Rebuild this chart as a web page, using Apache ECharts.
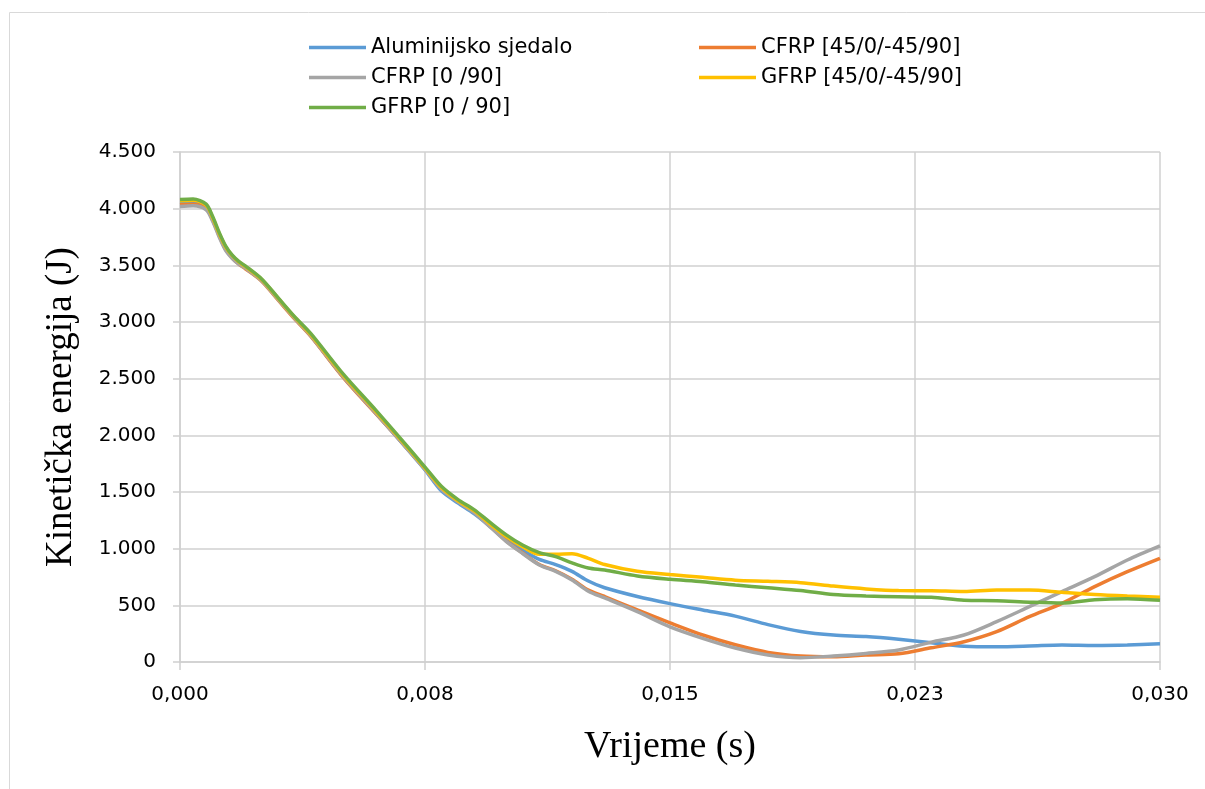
<!DOCTYPE html>
<html>
<head>
<meta charset="utf-8">
<script src="https://cdn.jsdelivr.net/npm/echarts@6/dist/echarts.min.js"></script>
<style>
  html, body { margin: 0; padding: 0; background: #fff; }
  #chart { width: 1205px; height: 789px; }
</style>
</head>
<body>
<div id="chart"></div>
<script>
// vrijeme (s)
const vrijeme = [0, 0.0004, 0.0008, 0.001, 0.0012, 0.0014, 0.0016, 0.0018, 0.002, 0.0025,
  0.003, 0.0035, 0.004, 0.005, 0.006, 0.007, 0.0075, 0.008, 0.0085, 0.009, 0.0095,
  0.010, 0.0105, 0.011, 0.0115, 0.012, 0.0125, 0.013, 0.014, 0.015, 0.016, 0.017, 0.018,
  0.019, 0.020, 0.021, 0.022, 0.023, 0.024, 0.025, 0.026, 0.027, 0.028, 0.029, 0.030];

const aluminij = [4060, 4060, 4020, 3910, 3770, 3650, 3575, 3520, 3480, 3370,
  3205, 3040, 2880, 2515, 2195, 1865, 1695, 1510, 1405, 1310, 1195,
  1075, 985, 905, 860, 800, 715, 655, 578, 515, 459, 405, 330,
  270, 238, 224, 200, 170, 140, 135, 141, 150, 146, 150, 160];
const cfrp45 = [4035, 4040, 4000, 3900, 3760, 3640, 3565, 3510, 3470, 3360,
  3195, 3030, 2875, 2510, 2190, 1870, 1705, 1530, 1420, 1325, 1195,
  1065, 960, 860, 805, 730, 635, 578, 459, 345, 238, 152, 85,
  53, 47, 62, 72, 125, 179, 268, 400, 518, 665, 797, 915];
const cfrp090 = [4020, 4025, 3990, 3890, 3750, 3630, 3560, 3510, 3475, 3365,
  3200, 3035, 2880, 2515, 2195, 1865, 1700, 1525, 1415, 1320, 1190,
  1060, 955, 856, 800, 724, 625, 565, 444, 310, 209, 123, 62,
  38, 53, 76, 106, 175, 238, 356, 488, 621, 753, 900, 1025];
const gfrp45 = [4070, 4075, 4030, 3920, 3780, 3660, 3585, 3530, 3490, 3375,
  3210, 3045, 2890, 2530, 2210, 1880, 1710, 1540, 1425, 1335, 1215,
  1105, 1015, 950, 950, 955, 915, 860, 800, 772, 747, 722, 712,
  700, 670, 645, 630, 629, 622, 635, 635, 615, 595, 582, 572];
const gfrp090 = [4080, 4085, 4040, 3930, 3790, 3670, 3590, 3535, 3495, 3380,
  3215, 3050, 2900, 2540, 2220, 1890, 1720, 1550, 1435, 1345, 1230,
  1120, 1030, 965, 930, 875, 830, 812, 759, 730, 709, 679, 655,
  630, 595, 582, 575, 571, 545, 541, 528, 520, 550, 559, 545];

const xTickLabels = ['0,000', '0,008', '0,015', '0,023', '0,030'];

const nazivi = ['Aluminijsko sjedalo', 'CFRP [45/0/-45/90]', 'CFRP [0 /90]', 'GFRP [45/0/-45/90]', 'GFRP [0 / 90]'];
const boje = ['#5B9BD5', '#ED7D31', '#A5A5A5', '#FFC000', '#70AD47'];
const nizovi = [aluminij, cfrp45, cfrp090, gfrp45, gfrp090];

function parovi(arr) {
  return vrijeme.map((t, i) => [t, arr[i]]);
}

const chart = echarts.init(document.getElementById('chart'));
const legendText = { fontFamily: 'DejaVu Sans', fontSize: 21, color: '#000' };
const gridColor = '#d0d0d0';

let option = {
  animation: false,
  graphic: [{
    type: 'rect',
    shape: { x: 9.5, y: 12.5, width: 1200, height: 800 },
    style: { fill: 'none', stroke: '#d9d9d9', lineWidth: 1 }
  }],
  grid: { left: 180, right: 45, top: 152, bottom: 127 },
  legend: [
    {
      left: 304, top: 32, orient: 'vertical', itemGap: 9,
      itemWidth: 57, itemHeight: 3.5, icon: 'rect',
      textStyle: legendText,
      data: ['Aluminijsko sjedalo', 'CFRP [0 /90]', 'GFRP [0 / 90]']
    },
    {
      left: 694, top: 32, orient: 'vertical', itemGap: 9,
      itemWidth: 57, itemHeight: 3.5, icon: 'rect',
      textStyle: legendText,
      data: ['CFRP [45/0/-45/90]', 'GFRP [45/0/-45/90]']
    }
  ],
  xAxis: {
    type: 'value',
    min: 0, max: 0.03, interval: 0.0075,
    name: 'Vrijeme (s)',
    nameLocation: 'middle',
    nameGap: 66,
    nameTextStyle: { fontFamily: 'Liberation Serif', fontSize: 38, color: '#000' },
    axisLine: { show: true, lineStyle: { color: gridColor, width: 1.5 } },
    axisTick: { show: true, length: 8, lineStyle: { color: gridColor, width: 1.5 } },
    axisLabel: {
      margin: 23,
      fontFamily: 'DejaVu Sans', fontSize: 20, color: '#000',
      formatter: v => xTickLabels[Math.round(v / 0.0075)]
    },
    splitLine: { show: true, lineStyle: { color: gridColor, width: 1.5 } }
  },
  yAxis: {
    type: 'value',
    min: 0, max: 4500, interval: 500,
    name: 'Kinetička energija (J)',
    nameLocation: 'middle',
    nameGap: 100,
    nameTextStyle: { fontFamily: 'Liberation Serif', fontSize: 37, color: '#000' },
    axisLine: { show: true, lineStyle: { color: gridColor, width: 1.5 } },
    axisTick: { show: true, length: 7, lineStyle: { color: gridColor, width: 1.5 } },
    axisLabel: {
      margin: 24,
      fontFamily: 'DejaVu Sans', fontSize: 20, color: '#000',
      formatter: v => String(v).replace(/\B(?=(\d{3})+(?!\d))/g, '.')
    },
    splitLine: { show: true, lineStyle: { color: gridColor, width: 1.5 } }
  },
  series: nizovi.map((arr, i) => ({
    name: nazivi[i],
    type: 'line',
    smooth: 0.3,
    showSymbol: false,
    symbol: 'none',
    color: boje[i],
    lineStyle: { color: boje[i], width: 3.5 },
    data: parovi(arr)
  }))
};
chart.setOption(option);
</script>
</body>
</html>
